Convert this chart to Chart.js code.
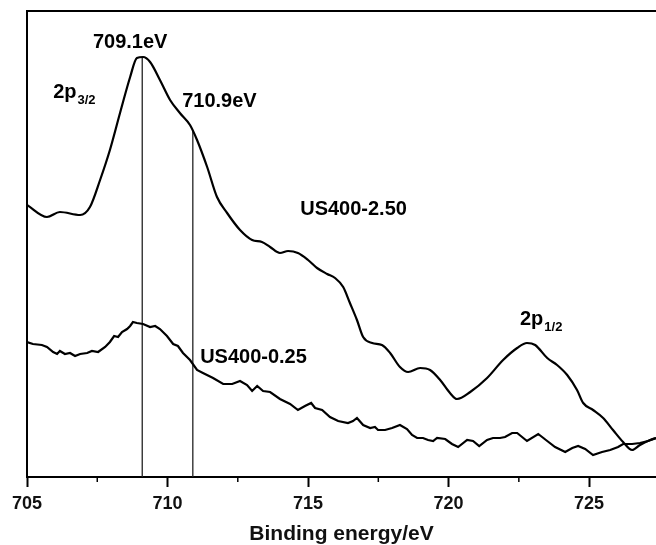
<!DOCTYPE html>
<html>
<head>
<meta charset="utf-8">
<script src="https://cdn.jsdelivr.net/npm/chart.js@4.4.0/dist/chart.umd.min.js"></script>
<style>
  html, body { margin: 0; padding: 0; background: #fff; }
  #wrap { width: 656px; height: 545px; }
</style>
</head>
<body>
<div id="wrap"><canvas id="xpsChart" width="656" height="545"></canvas></div>
<script>
// Fe 2p region, binding energy (eV) vs intensity (arbitrary units)
const energyHigh = [705.00, 705.71, 706.17, 706.89, 707.24, 707.60, 707.95, 708.31, 708.67, 708.91,
  709.13, 709.38, 709.73, 710.09, 710.44, 710.80, 711.05, 711.41, 711.76, 712.12,
  712.58, 713.01, 713.36, 713.65, 714.00, 714.29, 714.64, 715.00, 715.32, 715.68,
  715.96, 716.25, 716.49, 716.74, 716.96, 717.28, 717.63, 717.92, 718.27, 718.56,
  718.99, 719.34, 719.70, 720.05, 720.30, 720.77, 721.37, 721.94, 722.44, 722.79,
  723.08, 723.51, 723.86, 724.22, 724.57, 724.79, 725.14, 725.50, 725.85, 726.21,
  726.53, 726.81, 727.17, 727.38];
const countsHigh = [272, 260, 265, 262, 270, 297, 327, 364, 400, 419,
  420, 415, 397, 377, 364, 352, 337, 310, 280, 264,
  247, 237, 235, 230, 224, 226, 224, 217, 209, 203,
  199, 190, 174, 157, 140, 134, 132, 124, 110, 105,
  109, 107, 97, 84, 78, 85, 99, 117, 129, 134,
  132, 119, 112, 102, 87, 74, 67, 59, 47, 35,
  27, 32, 37, 39];

const energyLow = [705.00, 705.21, 705.53, 705.71, 705.93, 706.07, 706.17, 706.35, 706.53, 706.71,
  706.89, 707.14, 707.31, 707.53, 707.78, 707.95, 708.10, 708.24, 708.38, 708.56,
  708.67, 708.77, 708.91, 709.13, 709.38, 709.56, 709.73, 709.98, 710.20, 710.37,
  710.55, 710.80, 711.05, 711.26, 711.62, 711.98, 712.30, 712.58, 712.83, 713.01,
  713.19, 713.40, 713.65, 714.00, 714.36, 714.64, 714.89, 715.11, 715.25, 715.50,
  715.78, 716.07, 716.42, 716.60, 716.74, 716.96, 717.21, 717.38, 717.49, 717.74,
  717.99, 718.27, 718.52, 718.70, 718.88, 719.09, 719.27, 719.45, 719.59, 719.88,
  720.12, 720.34, 720.66, 720.87, 721.09, 721.37, 721.58, 721.83, 722.01, 722.26,
  722.44, 722.79, 723.19, 723.51, 723.79, 724.15, 724.40, 724.61, 724.86, 725.14,
  725.46, 725.75, 726.03, 726.21, 726.53, 726.81, 727.10, 727.38];
const countsLow = [135, 133, 132, 130, 125, 123, 126, 123, 124, 121,
  123, 124, 126, 125, 130, 135, 141, 140, 145, 148,
  151, 155, 154, 153, 150, 151, 148, 141, 133, 131,
  124, 117, 107, 104, 99, 93, 93, 96, 92, 86,
  91, 86, 85, 78, 73, 67, 71, 74, 69, 67,
  60, 56, 54, 56, 59, 52, 49, 50, 47, 47,
  49, 52, 48, 42, 39, 39, 37, 36, 39, 38,
  33, 30, 37, 36, 31, 37, 39, 39, 40, 44,
  44, 36, 43, 36, 30, 25, 29, 31, 28, 22,
  25, 27, 30, 33, 33, 34, 36, 39];

const peakMarkers = [709.1, 710.9];          // eV
const majorTicks = [705, 710, 715, 720, 725];

const FONT = '"Liberation Sans", Arial, Helvetica, sans-serif';

// text labels placed in data coordinates
const chartLabels = [
  { text: '709.1eV', x: 708.67, y: 429, align: 'center' },
  { text: '710.9eV', x: 710.52, y: 370, align: 'left' },
  { text: 'US400-2.50', x: 714.72, y: 262, align: 'left' },
  { text: 'US400-0.25', x: 711.16, y: 114, align: 'left' },
  { text: '2p', sub: '3/2', x: 705.93, y: 379, align: 'left' },
  { text: '2p', sub: '1/2', x: 722.54, y: 152, align: 'left' }
];

function toPoints(xs, ys) {
  return xs.map((x, i) => ({ x: x, y: ys[i] }));
}

// height of the upper trace at a given energy, used to end the marker lines on the curve
function upperAt(e) {
  for (let i = 1; i < energyHigh.length; i++) {
    if (energyHigh[i] >= e) {
      const t = (e - energyHigh[i - 1]) / (energyHigh[i] - energyHigh[i - 1]);
      return countsHigh[i - 1] + t * (countsHigh[i] - countsHigh[i - 1]);
    }
  }
  return countsHigh[countsHigh.length - 1];
}

const markerSets = peakMarkers.map(e => ({
  data: [{ x: e, y: 0 }, { x: e, y: upperAt(e) }],
  borderColor: '#222',
  borderWidth: 1.3,
  pointRadius: 0,
  tension: 0
}));

const framePlugin = {
  id: 'frame',
  afterDraw(chart) {
    const { ctx, chartArea } = chart;
    const xs = chart.scales.x;
    ctx.save();
    ctx.strokeStyle = '#000';
    ctx.lineWidth = 2;
    ctx.beginPath();
    ctx.moveTo(chartArea.left, chartArea.bottom);
    ctx.lineTo(chartArea.left, chartArea.top);
    ctx.lineTo(chart.width, chartArea.top);
    ctx.stroke();

    // short minor ticks between the labelled ones
    ctx.lineWidth = 1.5;
    xs.ticks.forEach(t => {
      if (majorTicks.includes(t.value)) return;
      const px = xs.getPixelForValue(t.value);
      ctx.beginPath();
      ctx.moveTo(px, chartArea.bottom);
      ctx.lineTo(px, chartArea.bottom + 5);
      ctx.stroke();
    });

    // annotations
    ctx.fillStyle = '#000';
    ctx.textBaseline = 'alphabetic';
    chartLabels.forEach(l => {
      const px = xs.getPixelForValue(l.x);
      const py = chart.scales.y.getPixelForValue(l.y);
      ctx.font = 'bold 20px ' + FONT;
      ctx.textAlign = l.align;
      ctx.fillText(l.text, px, py);
      if (l.sub) {
        const w = ctx.measureText(l.text).width;
        ctx.font = 'bold 13px ' + FONT;
        ctx.textAlign = 'left';
        ctx.fillText(l.sub, px + w + 1, py + 6);
      }
    });
    ctx.restore();
  }
};

new Chart(document.getElementById('xpsChart'), {
  type: 'line',
  data: {
    datasets: [
      {
        label: 'US400-2.50',
        data: toPoints(energyHigh, countsHigh),
        borderColor: '#000',
        borderWidth: 2.2,
        pointRadius: 0,
        cubicInterpolationMode: 'monotone'
      },
      {
        label: 'US400-0.25',
        data: toPoints(energyLow, countsLow),
        borderColor: '#000',
        borderWidth: 2.2,
        pointRadius: 0,
        tension: 0
      },
      ...markerSets
    ]
  },
  options: {
    responsive: false,
    animation: false,
    events: [],
    layout: { padding: { left: 27, top: 11, right: 0, bottom: 0 } },
    plugins: {
      legend: { display: false },
      tooltip: { enabled: false }
    },
    scales: {
      x: {
        type: 'linear',
        min: 705,
        max: 727.38,
        border: { display: true, color: '#000', width: 2 },
        grid: {
          drawOnChartArea: false,
          drawTicks: true,
          tickLength: 10,
          tickWidth: 2,
          tickColor: c => majorTicks.includes(c.tick.value) ? '#000' : 'rgba(0,0,0,0)'
        },
        ticks: {
          stepSize: 2.5,
          includeBounds: false,
          autoSkip: false,
          maxRotation: 0,
          padding: 6,
          color: '#111',
          font: { family: FONT, size: 18, weight: 'bold' },
          callback: v => majorTicks.includes(v) ? String(v) : ''
        },
        title: {
          display: true,
          text: 'Binding energy/eV',
          color: '#111',
          font: { family: FONT, size: 21, weight: 'bold', lineHeight: 1 },
          padding: { top: 0, bottom: 0 }
        },
        afterFit: scale => { scale.height = 68; }
      },
      y: {
        display: false,
        min: 0,
        max: 466
      }
    }
  },
  plugins: [framePlugin]
});
</script>
</body>
</html>
